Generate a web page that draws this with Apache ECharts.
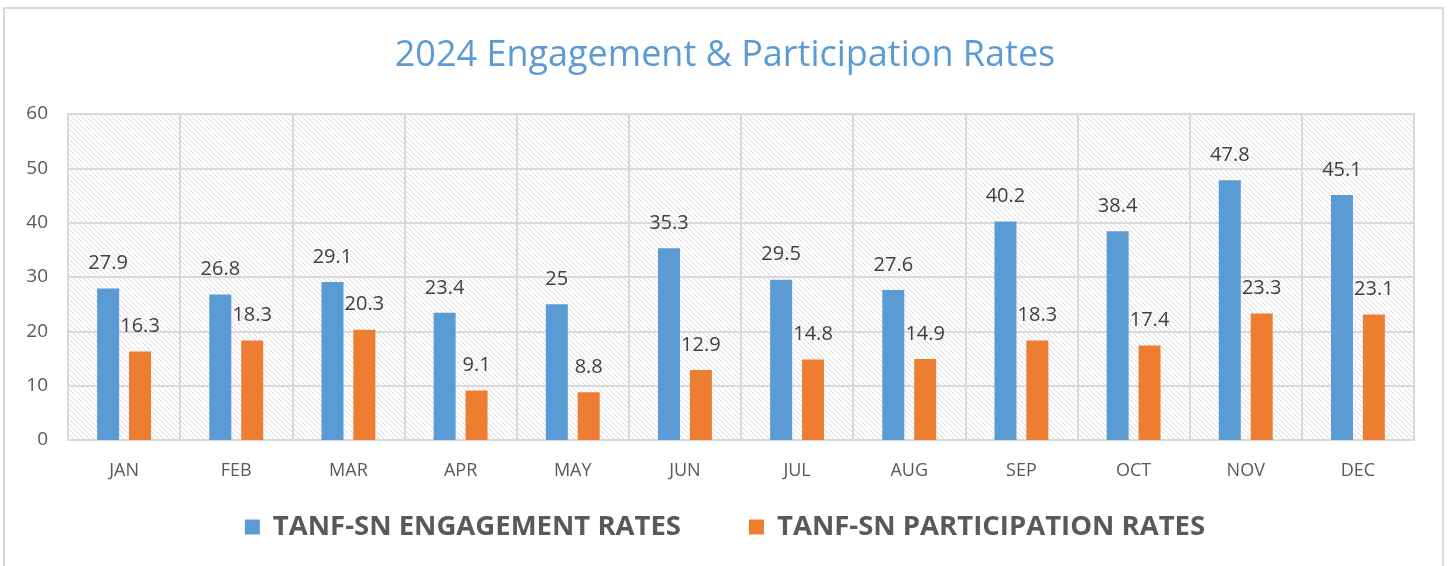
<!DOCTYPE html>
<html>
<head>
<meta charset="utf-8">
<script src="https://cdn.jsdelivr.net/npm/echarts@6/dist/echarts.min.js"></script>
<style>
  html, body { margin: 0; padding: 0; background: #fff; }
  #chart { width: 1450px; height: 566px; }
</style>
</head>
<body>
<div id="chart"></div>
<script>
// months on the x axis
var months = ['JAN', 'FEB', 'MAR', 'APR', 'MAY', 'JUN', 'JUL', 'AUG', 'SEP', 'OCT', 'NOV', 'DEC'];
// values
var engagement = [27.9, 26.8, 29.1, 23.4, 25, 35.3, 29.5, 27.6, 40.2, 38.4, 47.8, 45.1];
var participation = [16.3, 18.3, 20.3, 9.1, 8.8, 12.9, 14.8, 14.9, 18.3, 17.4, 23.3, 23.1];
var seriesNames = ['TANF-SN ENGAGEMENT RATES', 'TANF-SN PARTICIPATION RATES'];

// diagonal hatch for the plot background, drawn pixel by pixel
function hatch() {
    var n = 5;
    var c = document.createElement('canvas');
    c.width = n; c.height = n;
    var ctx = c.getContext('2d');
    ctx.fillStyle = '#ffffff';
    ctx.fillRect(0, 0, n, n);
    ctx.fillStyle = '#d9d9d9';
    for (var i = 0; i < n; i++) {
        ctx.fillRect(i, i, 1, 1);
    }
    return c;
}

var font = '"Open Sans", "Noto Sans", sans-serif';
var myChart = echarts.init(document.getElementById('chart'));
myChart.setOption({
    animation: false,
    backgroundColor: '#ffffff',
    title: {
        text: '2024 Engagement & Participation Rates',
        left: 'center',
        top: 33,
        textStyle: { color: '#5B9BD5', fontSize: 36, fontWeight: 'normal', fontFamily: font }
    },
    graphic: [{
        type: 'rect',
        shape: { x: 4, y: 8, width: 1439, height: 600 },
        style: { fill: 'none', stroke: '#d9d9d9', lineWidth: 2 },
        silent: true
    }],
    legend: {
        data: seriesNames,
        bottom: 20,
        left: 'center',
        itemWidth: 15,
        itemHeight: 15,
        itemGap: 68,
        icon: 'rect',
        textStyle: { color: '#595959', fontSize: 27.5, fontWeight: 'bold', fontFamily: font, padding: [0, 0, 0, 8] }
    },
    grid: {
        left: 68, right: 36, top: 114, bottom: 126,
        show: true,
        backgroundColor: { image: hatch(), repeat: 'repeat' },
        borderColor: '#d9d9d9',
        borderWidth: 2
    },
    xAxis: {
        type: 'category',
        data: months,
        axisLine: { lineStyle: { color: '#d9d9d9', width: 2 } },
        axisTick: { show: false },
        splitLine: { show: true, lineStyle: { color: '#d9d9d9', width: 2 } },
        axisLabel: { color: '#595959', fontSize: 18, margin: 22, fontFamily: font }
    },
    yAxis: {
        type: 'value',
        min: 0, max: 60, interval: 10,
        axisLine: { show: false },
        axisTick: { show: false },
        splitLine: { lineStyle: { color: '#d9d9d9', width: 2 } },
        axisLabel: { color: '#595959', fontSize: 19, margin: 20, fontFamily: font }
    },
    series: [{
        name: seriesNames[0],
        type: 'bar',
        data: engagement,
        barWidth: 22,
        barGap: '45%',
        itemStyle: { color: '#5B9BD5' },
        label: { show: true, position: 'top', distance: 15, color: '#404040', fontSize: 20, fontFamily: font }
    }, {
        name: seriesNames[1],
        type: 'bar',
        data: participation,
        barWidth: 22,
        barGap: '45%',
        itemStyle: { color: '#ED7D31' },
        label: { show: true, position: 'top', distance: 15, color: '#404040', fontSize: 20, fontFamily: font }
    }]
});
</script>
</body>
</html>
